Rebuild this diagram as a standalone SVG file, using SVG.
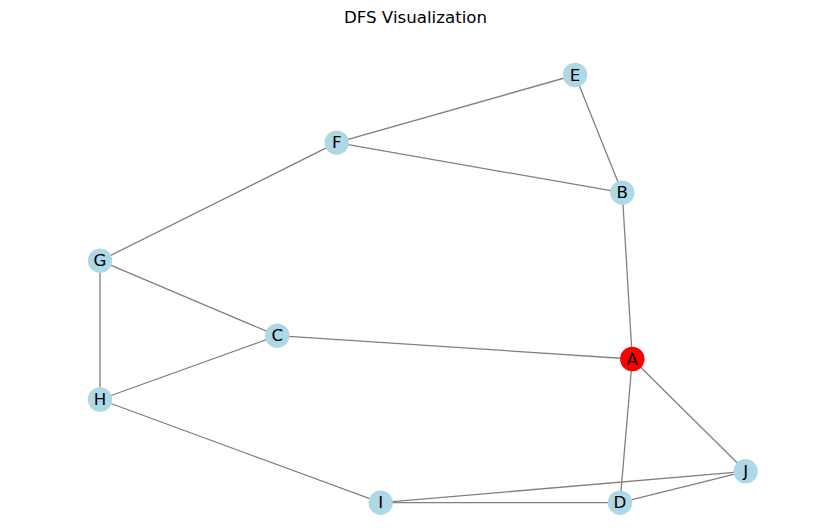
<svg xmlns="http://www.w3.org/2000/svg" width="831" height="531" viewBox="0 0 831 531">
<style>
.e{stroke:#808080;stroke-width:1.3;fill:none}
.n{fill:#ADD8E6}
.r{fill:#FF0000}
.t{font-family:"DejaVu Sans",sans-serif;font-size:16.67px;fill:#000;text-anchor:middle;dominant-baseline:central}
</style>
<rect width="831" height="531" fill="#fff"/>
<text x="415.5" y="17" class="t">DFS Visualization</text>
<g id="edges">
<line class="e" x1="575" y1="75" x2="336.7" y2="142.7"/>
<line class="e" x1="575" y1="75" x2="622.3" y2="192.7"/>
<line class="e" x1="336.7" y1="142.7" x2="622.3" y2="192.7"/>
<line class="e" x1="336.7" y1="142.7" x2="100" y2="260.7"/>
<line class="e" x1="622.3" y1="192.7" x2="632.3" y2="359"/>
<line class="e" x1="100" y1="260.7" x2="277.3" y2="335.7"/>
<line class="e" x1="100" y1="260.7" x2="100" y2="399.5"/>
<line class="e" x1="277.3" y1="335.7" x2="632.3" y2="359"/>
<line class="e" x1="277.3" y1="335.7" x2="100" y2="399.5"/>
<line class="e" x1="100" y1="399.5" x2="380.7" y2="502.7"/>
<line class="e" x1="632.3" y1="359" x2="745.7" y2="471.3"/>
<line class="e" x1="632.3" y1="359" x2="620" y2="502.7"/>
<line class="e" x1="380.7" y1="502.7" x2="745.7" y2="471.3"/>
<line class="e" x1="380.7" y1="502.7" x2="620" y2="502.7"/>
<line class="e" x1="620" y1="502.7" x2="745.7" y2="471.3"/>
</g>
<g id="node-A"><circle class="r" cx="632.3" cy="359" r="12.2"/><text class="t" x="632.3" y="359">A</text></g>
<g id="node-B"><circle class="n" cx="622.3" cy="192.7" r="12.2"/><text class="t" x="622.3" y="192.7">B</text></g>
<g id="node-C"><circle class="n" cx="277.3" cy="335.7" r="12.2"/><text class="t" x="277.3" y="335.7">C</text></g>
<g id="node-D"><circle class="n" cx="620" cy="502.7" r="12.2"/><text class="t" x="620" y="502.7">D</text></g>
<g id="node-E"><circle class="n" cx="575" cy="75" r="12.2"/><text class="t" x="575" y="75">E</text></g>
<g id="node-F"><circle class="n" cx="336.7" cy="142.7" r="12.2"/><text class="t" x="336.7" y="142.7">F</text></g>
<g id="node-G"><circle class="n" cx="100" cy="260.7" r="12.2"/><text class="t" x="100" y="260.7">G</text></g>
<g id="node-H"><circle class="n" cx="100" cy="399.5" r="12.2"/><text class="t" x="100" y="399.5">H</text></g>
<g id="node-I"><circle class="n" cx="380.7" cy="502.7" r="12.2"/><text class="t" x="380.7" y="502.7">I</text></g>
<g id="node-J"><circle class="n" cx="745.7" cy="471.3" r="12.2"/><text class="t" x="745.7" y="471.3">J</text></g>
</svg>
